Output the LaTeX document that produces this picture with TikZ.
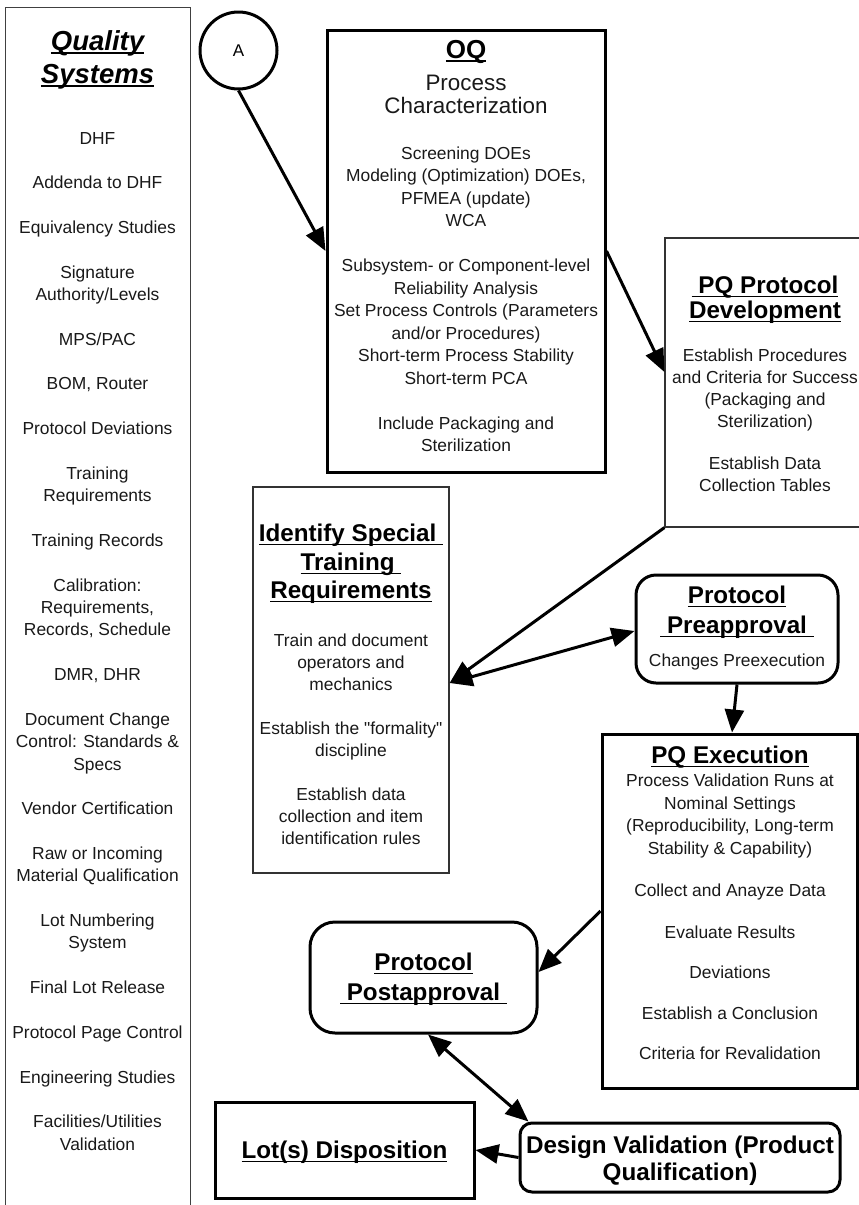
\documentclass[tikz,border=0pt]{standalone}
\usepackage{fontspec}
\setmainfont{Liberation Sans}
\usetikzlibrary{arrows.meta}
\newsavebox\ulsave
% underline with a rule set just below the baseline
\newcommand\ulx[1]{\sbox\ulsave{#1}\rlap{\rule[-0.16em]{\wd\ulsave}{0.075em}}\usebox\ulsave}
% straight double quote, set as a glyph so no ligature mapping applies
\newcommand\sq{\XeTeXglyph\XeTeXglyphindex "quotedbl"\relax}
\begin{document}
\begin{tikzpicture}[x=1pt,y=-1pt,
  >={Triangle[length=23pt,width=19pt]},
  body/.style={font=\fontsize{17.4}{20}\selectfont, anchor=base, inner sep=0pt, text=black!90},
  head/.style={font=\fontsize{24.2}{28}\selectfont\bfseries, anchor=base, inner sep=0pt},
  heavy/.style={draw, line width=3pt, inner sep=0pt},
  light/.style={draw=black!80, line width=1.2pt, inner sep=0pt},
  link/.style={line width=3pt, ->},
  twoway/.style={line width=3pt, <->}]
\useasboundingbox (0,0) rectangle (859,1205);
\clip (0,0) rectangle (859,1205);
\fill[white] (0,0) rectangle (859,1205);

% ---------- boxes ----------
\node[draw=black!75, line width=1.2pt, inner sep=0pt, minimum width=185pt, minimum height=1230pt, anchor=north west] (qs) at (5,7) {};
\node[circle, draw, line width=3pt, minimum size=77pt, inner sep=0pt, font=\fontsize{17}{20}\selectfont] (a) at (238.5,50.5) {A};
\node[heavy, minimum width=278pt, minimum height=442pt] (oq) at (466,251) {};
\node[light, minimum width=200pt, minimum height=289pt] (pq) at (765,382.5) {};
\node[light, minimum width=196pt, minimum height=386pt] (idt) at (351,680) {};
\node[heavy, rounded corners=20pt, minimum width=202pt, minimum height=108pt] (pre) at (737,629) {};
\node[heavy, minimum width=255pt, minimum height=354pt] (ex) at (729.5,911) {};
\node[heavy, rounded corners=25pt, minimum width=227pt, minimum height=111pt] (post) at (423.5,977.5) {};
\node[heavy, rounded corners=12pt, minimum width=320pt, minimum height=69pt] (dv) at (680,1157.5) {};
\node[heavy, minimum width=259pt, minimum height=96pt] (lot) at (344.5,1150) {};

% ---------- connectors ----------
\draw[link] (a.south) -- (oq.west);
\draw[link] (oq.east) -- ([yshift=10.5pt]pq.west);
\draw[link] (pq.south west) -- ([yshift=-3pt]idt.east);
\draw[twoway] ([yshift=-3pt]idt.east) -- ([yshift=-2pt]pre.west);
\draw[link] (pre.south) -- ([xshift=2.5pt]ex.north);
\draw[link] (ex.west) -- ([yshift=5.5pt]post.east);
\draw[twoway] ([xshift=4.5pt]post.south) -- ([xshift=10pt]dv.north west);
\draw[link] (dv.west) -- (lot.east);

% ---------- Quality Systems list ----------
\node[anchor=base, inner sep=0pt, font=\fontsize{27.5}{33}\selectfont\bfseries\itshape] (qsT1) at (97.5,50) {\ulx{Quality}};
\node[anchor=base, inner sep=0pt, font=\fontsize{27.5}{33}\selectfont\bfseries\itshape] (qsT2) at (97.5,83) {\ulx{Systems}};
\foreach \i/\t in {0/DHF, 2/Addenda to DHF, 4/Equivalency Studies, 6/Signature, 7/Authority\slash Levels,
  9/MPS\slash PAC, 11/{BOM, Router}, 13/Protocol Deviations, 15/Training, 16/Requirements,
  18/Training Records, 20/Calibration:, 21/{Requirements,}, 22/{Records, Schedule}, 24/{DMR, DHR},
  26/Document Change, 27/Control: Standards \&, 28/Specs, 30/Vendor Certification,
  32/Raw or Incoming, 33/Material Qualification, 35/Lot Numbering, 36/System,
  38/Final Lot Release, 40/Protocol Page Control, 42/Engineering Studies,
  44/Facilities\slash Utilities, 45/Validation}
  \node[body] (qs\i) at (97.5,{144+\i*22.36}) {\t};

% ---------- OQ ----------
\node[anchor=base, inner sep=0pt, font=\fontsize{26}{30}\selectfont\bfseries] (oqT) at (466,58) {\ulx{OQ}};
\node[anchor=base, inner sep=0pt, font=\fontsize{22.4}{26}\selectfont, text=black!90] (oqS1) at (466,90) {Process};
\node[anchor=base, inner sep=0pt, font=\fontsize{22.4}{26}\selectfont, text=black!90] (oqS2) at (466,113) {Characterization};
\node[body] (oq1) at (466,159) {Screening DOEs};
\node[body] (oq2) at (466,181.5) {Modeling (Optimization) DOEs,};
\node[body] (oq3) at (466,204) {PFMEA (update)};
\node[body] (oq4) at (466,226.5) {WCA};
\node[body] (oq5) at (466,271.5) {Subsystem- or Component-level};
\node[body] (oq6) at (466,294) {Reliability Analysis};
\node[body] (oq7) at (466,316.5) {Set Process Controls (Parameters};
\node[body] (oq8) at (466,339) {and/or Procedures)};
\node[body] (oq9) at (466,361.5) {Short-term Process Stability};
\node[body] (oq10) at (466,384) {Short-term PCA};
\node[body] (oq11) at (466,429) {Include Packaging and};
\node[body] (oq12) at (466,451.5) {Sterilization};

% ---------- PQ Protocol Development ----------
\node[head] (pqT1) at (765,293.5) {\ulx{\ PQ Protocol}};
\node[head] (pqT2) at (765,318.5) {\ulx{Development}};
\node[body] (pq1) at (765,361) {Establish Procedures};
\node[body] (pq2) at (765,383) {and Criteria for Success};
\node[body] (pq3) at (765,405) {(Packaging and};
\node[body] (pq4) at (765,427) {Sterilization)};
\node[body] (pq5) at (765,469) {Establish Data};
\node[body] (pq6) at (765,491) {Collection Tables};

% ---------- Identify Special Training Requirements ----------
\node[head] (idT1) at (351,541.5) {\ulx{Identify Special\ }};
\node[head] (idT2) at (351,570.5) {\ulx{Training\ }};
\node[head] (idT3) at (351,598.5) {\ulx{Requirements}};
\node[body] (id1) at (351,646) {Train and document};
\node[body] (id2) at (351,668) {operators and};
\node[body] (id3) at (351,690) {mechanics};
\node[body] (id4) at (351,734) {Establish the \sq formality\sq};
\node[body] (id5) at (351,756) {discipline};
\node[body] (id6) at (351,800) {Establish data};
\node[body] (id7) at (351,822) {collection and item};
\node[body] (id8) at (351,844) {identification rules};

% ---------- Protocol Preapproval ----------
\node[head] (preT1) at (737,603.5) {\ulx{Protocol}};
\node[head] (preT2) at (737,633.5) {\ulx{\ Preapproval\ }};
\node[body] (pre1) at (737,666) {Changes Preexecution};

% ---------- PQ Execution ----------
\node[head] (exT) at (730,763.5) {\ulx{PQ Execution}};
\node[body] (ex1) at (730,786) {Process Validation Runs at};
\node[body] (ex2) at (730,809) {Nominal Settings};
\node[body] (ex3) at (730,831) {(Reproducibility, Long-term};
\node[body] (ex4) at (730,854) {Stability \& Capability)};
\node[body] (ex5) at (730,896) {Collect and Anayze Data};
\node[body] (ex6) at (730,938) {Evaluate Results};
\node[body] (ex7) at (730,978) {Deviations};
\node[body] (ex8) at (730,1019) {Establish a Conclusion};
\node[body] (ex9) at (730,1059) {Criteria for Revalidation};

% ---------- Protocol Postapproval ----------
\node[head] (postT1) at (423.5,970.5) {\ulx{Protocol}};
\node[head] (postT2) at (423.5,1000.5) {\ulx{\ Postapproval\ }};

% ---------- Lot(s) Disposition / Design Validation ----------
\node[head] (lotT) at (344.5,1158.5) {\ulx{Lot(s) Disposition}};
\node[head] (dvT1) at (680,1153.5) {Design Validation (Product};
\node[head] (dvT2) at (680,1180.5) {Qualification)};
\end{tikzpicture}
\end{document}
